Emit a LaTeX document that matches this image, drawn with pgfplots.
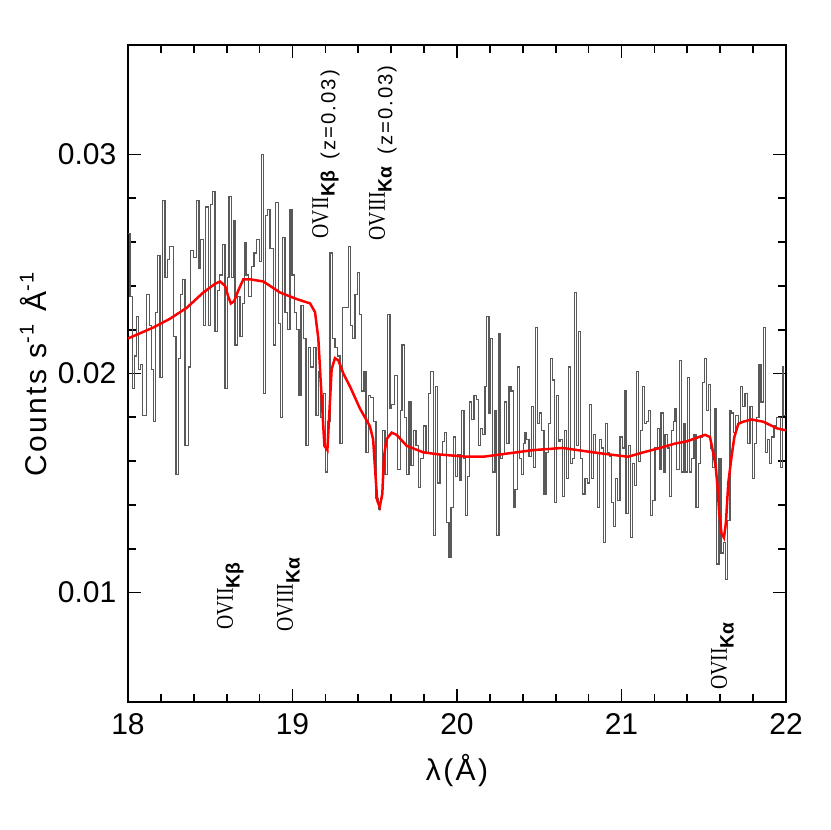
\documentclass[border=0pt]{standalone}
\usepackage{fontspec}
\setmainfont{Liberation Sans}
\newfontfamily\lserif{Liberation Serif}
\newfontfamily\widesans[LetterSpace=10]{Liberation Sans}
\newfontfamily\labsans[LetterSpace=8]{Liberation Sans}
\usepackage{graphicx}
\usepackage{pgfplots}
\pgfplotsset{compat=1.18}

% line label: ion name (serif, condensed) + bold sans subscript
\newcommand{\ion}[2]{{\fontsize{7.2}{8}\lserif\scalebox{0.82}[1]{#1}}\raisebox{-2pt}{\fontsize{5.8}{6}\selectfont\bfseries #2}}
\newcommand{\zz}{\raisebox{-2.2pt}{\fontsize{6.1}{7}\widesans (z=0.03)}}

\begin{document}
\begin{tikzpicture}
\begin{axis}[
    scale only axis,
    width=197.4pt, height=197.1pt,
    xmin=18, xmax=22, ymin=0.005, ymax=0.035,
    xtick={18,19,20,21,22},
    ytick={0.01,0.02,0.03},
    minor x tick num=4, minor y tick num=4,
    tick align=inside,
    major tick length=3.9pt, minor tick length=2.4pt,
    axis line style={line width=0.6pt},
    every tick/.style={line width=0.5pt, black},
    scaled y ticks=false,
    yticklabel style={/pgf/number format/fixed, /pgf/number format/precision=2, /pgf/number format/fixed zerofill},
    /pgf/number format/assume math mode=true,
    tick label style={font=\fontsize{9}{11}\selectfont},
    label style={font=\fontsize{9}{11}\labsans},
    xlabel={λ(Å)},
    ylabel={Counts s\textsuperscript{-1} Å\textsuperscript{-1}},
    xlabel style={yshift=1pt},
    ylabel shift=-3.5pt,
    clip=false,
]
% observed spectrum (binned counts)
\addplot[const plot, black!65, line width=0.35pt] coordinates {
(18.000,0.0264) (18.012,0.0235) (18.028,0.0193) (18.039,0.0208) (18.053,0.0226)
(18.063,0.0202) (18.077,0.0204) (18.089,0.0181) (18.114,0.0236) (18.130,0.0222)
(18.144,0.0202) (18.154,0.0178) (18.168,0.0228) (18.178,0.0254) (18.195,0.0198)
(18.211,0.0279) (18.225,0.0244) (18.239,0.0252) (18.251,0.0258) (18.276,0.0217)
(18.292,0.0154) (18.306,0.0207) (18.320,0.0236) (18.332,0.0243) (18.347,0.0167)
(18.367,0.0203) (18.381,0.0256) (18.397,0.0253) (18.418,0.0279) (18.432,0.0248)
(18.442,0.0261) (18.458,0.0222) (18.472,0.0276) (18.488,0.0222) (18.499,0.0277)
(18.515,0.0283) (18.529,0.0219) (18.543,0.0238) (18.555,0.0245) (18.576,0.0259)
(18.590,0.0193) (18.604,0.0244) (18.614,0.0281) (18.630,0.0244) (18.640,0.0270)
(18.650,0.0213) (18.665,0.0235) (18.681,0.0217) (18.695,0.0232) (18.707,0.0260)
(18.717,0.0245) (18.732,0.0235) (18.752,0.0249) (18.766,0.0255) (18.782,0.0261)
(18.798,0.0251) (18.813,0.0300) (18.823,0.0191) (18.837,0.0272) (18.849,0.0275)
(18.863,0.0257) (18.884,0.0213) (18.898,0.0278) (18.914,0.0223) (18.928,0.0180)
(18.940,0.0262) (18.954,0.0228) (18.969,0.0220) (18.985,0.0275) (18.997,0.0245)
(19.011,0.0228) (19.025,0.0220) (19.040,0.0190) (19.052,0.0231) (19.066,0.0216)
(19.082,0.0167) (19.096,0.0212) (19.110,0.0203) (19.127,0.0212) (19.143,0.0181)
(19.157,0.0201) (19.171,0.0180) (19.187,0.0191) (19.202,0.0155) (19.214,0.0178)
(19.228,0.0255) (19.242,0.0216) (19.258,0.0212) (19.275,0.0208) (19.289,0.0168)
(19.303,0.0230) (19.339,0.0258) (19.354,0.0222) (19.366,0.0216) (19.380,0.0236)
(19.394,0.0246) (19.406,0.0227) (19.421,0.0192) (19.435,0.0201) (19.447,0.0164)
(19.461,0.0190) (19.475,0.0189) (19.491,0.0178) (19.508,0.0143) (19.522,0.0138)
(19.536,0.0143) (19.548,0.0174) (19.562,0.0154) (19.577,0.0227) (19.593,0.0184)
(19.603,0.0186) (19.619,0.0199) (19.637,0.0156) (19.654,0.0183) (19.666,0.0213)
(19.680,0.0180) (19.694,0.0154) (19.708,0.0187) (19.720,0.0158) (19.735,0.0174)
(19.751,0.0167) (19.765,0.0148) (19.779,0.0161) (19.795,0.0176) (19.812,0.0164)
(19.826,0.0191) (19.840,0.0201) (19.856,0.0126) (19.870,0.0194) (19.883,0.0150)
(19.897,0.0163) (19.911,0.0169) (19.923,0.0173) (19.937,0.0132) (19.951,0.0116)
(19.964,0.0139) (19.978,0.0171) (19.992,0.0153) (20.004,0.0163) (20.018,0.0151)
(20.028,0.0183) (20.043,0.0161) (20.053,0.0135) (20.063,0.0153) (20.075,0.0187)
(20.089,0.0179) (20.103,0.0190) (20.116,0.0188) (20.130,0.0167) (20.144,0.0175)
(20.156,0.0172) (20.170,0.0194) (20.180,0.0226) (20.195,0.0182) (20.205,0.0216)
(20.217,0.0155) (20.231,0.0183) (20.241,0.0126) (20.255,0.0218) (20.266,0.0161)
(20.278,0.0163) (20.288,0.0187) (20.302,0.0168) (20.316,0.0194) (20.328,0.0192)
(20.343,0.0139) (20.353,0.0147) (20.367,0.0203) (20.379,0.0161) (20.391,0.0154)
(20.403,0.0168) (20.413,0.0173) (20.424,0.0170) (20.438,0.0162) (20.452,0.0185)
(20.464,0.0157) (20.476,0.0221) (20.488,0.0177) (20.501,0.0182) (20.515,0.0174)
(20.529,0.0145) (20.541,0.0164) (20.555,0.0177) (20.569,0.0207) (20.582,0.0197)
(20.594,0.0141) (20.606,0.0190) (20.616,0.0169) (20.626,0.0170) (20.640,0.0144)
(20.655,0.0174) (20.667,0.0152) (20.679,0.0203) (20.691,0.0159) (20.703,0.0161)
(20.715,0.0237) (20.728,0.0167) (20.740,0.0219) (20.752,0.0161) (20.764,0.0145)
(20.778,0.0152) (20.792,0.0150) (20.805,0.0186) (20.819,0.0152) (20.829,0.0172)
(20.843,0.0164) (20.855,0.0139) (20.865,0.0170) (20.879,0.0166) (20.890,0.0123)
(20.904,0.0177) (20.916,0.0164) (20.928,0.0162) (20.940,0.0141) (20.950,0.0130)
(20.965,0.0152) (20.977,0.0142) (20.991,0.0171) (21.005,0.0166) (21.017,0.0192)
(21.027,0.0136) (21.042,0.0167) (21.056,0.0125) (21.068,0.0159) (21.078,0.0149)
(21.092,0.0201) (21.102,0.0160) (21.113,0.0174) (21.127,0.0194) (21.139,0.0177)
(21.153,0.0178) (21.165,0.0183) (21.177,0.0135) (21.190,0.0142) (21.204,0.0166)
(21.218,0.0175) (21.230,0.0156) (21.240,0.0182) (21.254,0.0155) (21.264,0.0172)
(21.279,0.0166) (21.291,0.0144) (21.303,0.0174) (21.315,0.0178) (21.325,0.0184)
(21.335,0.0156) (21.352,0.0206) (21.366,0.0155) (21.376,0.0177) (21.386,0.0155)
(21.400,0.0198) (21.412,0.0155) (21.427,0.0161) (21.441,0.0172) (21.453,0.0139)
(21.467,0.0159) (21.481,0.0171) (21.491,0.0196) (21.504,0.0207) (21.518,0.0183)
(21.528,0.0195) (21.542,0.0166) (21.554,0.0157) (21.568,0.0184) (21.579,0.0113)
(21.593,0.0161) (21.605,0.0118) (21.619,0.0123) (21.633,0.0106) (21.645,0.0133)
(21.660,0.0183) (21.670,0.0182) (21.680,0.0173) (21.694,0.0181) (21.710,0.0177)
(21.724,0.0194) (21.737,0.0185) (21.751,0.0191) (21.765,0.0168) (21.781,0.0185)
(21.795,0.0152) (21.808,0.0168) (21.822,0.0180) (21.836,0.0204) (21.848,0.0187)
(21.862,0.0221) (21.876,0.0164) (21.887,0.0170) (21.899,0.0159) (21.913,0.0171)
(21.927,0.0176) (21.943,0.0180) (21.964,0.0157) (21.978,0.0203) (21.986,0.0181)
(22.000,0.0181)
};
% model
\addplot[red, line width=0.75pt] coordinates {
(18.000,0.0216) (18.154,0.0221) (18.255,0.0225) (18.357,0.0230) (18.458,0.0237)
(18.530,0.0241) (18.560,0.0242) (18.590,0.0240) (18.610,0.0235) (18.625,0.0232)
(18.645,0.0233) (18.671,0.0238) (18.701,0.0243) (18.742,0.0243) (18.823,0.0242)
(18.924,0.0237) (19.025,0.0234) (19.107,0.0232) (19.137,0.0228) (19.157,0.0216)
(19.171,0.0197) (19.184,0.0180) (19.194,0.0167) (19.212,0.0165) (19.224,0.0182)
(19.238,0.0202) (19.258,0.0207) (19.279,0.0206) (19.309,0.0200) (19.350,0.0194)
(19.410,0.0184) (19.470,0.0176) (19.490,0.0170) (19.505,0.0153) (19.515,0.0142)
(19.530,0.0139) (19.546,0.0145) (19.556,0.0162) (19.572,0.0170) (19.603,0.0173)
(19.633,0.0172) (19.694,0.0167) (19.795,0.0164) (19.897,0.0163) (20.058,0.0162)
(20.160,0.0162) (20.260,0.0163) (20.360,0.0164) (20.460,0.0165) (20.640,0.0166)
(20.829,0.0164) (20.930,0.0163) (21.040,0.0162) (21.133,0.0164) (21.234,0.0166)
(21.325,0.0168) (21.396,0.0169) (21.508,0.0172) (21.538,0.0171) (21.554,0.0165)
(21.572,0.0158) (21.584,0.0148) (21.594,0.0136) (21.608,0.0127) (21.623,0.0125)
(21.635,0.0132) (21.649,0.0150) (21.669,0.0162) (21.686,0.0171) (21.710,0.0177)
(21.740,0.0178) (21.790,0.0179) (21.862,0.0178) (21.943,0.0175) (22.000,0.0174)
};
% line identifications
\node[rotate=90, anchor=base west, inner sep=0pt] at (axis cs:18.638,0.00827) {\ion{OVII}{Kβ}};
\node[rotate=90, anchor=base west, inner sep=0pt] at (axis cs:19.003,0.00818) {\ion{OVIII}{Kα}};
\node[rotate=90, anchor=base west, inner sep=0pt] at (axis cs:19.216,0.02614) {\ion{OVII}{Kβ}\hspace{3.5pt}\zz};
\node[rotate=90, anchor=base west, inner sep=0pt] at (axis cs:19.562,0.02605) {\ion{OVIII}{Kα}\hspace{3.5pt}\zz};
\node[rotate=90, anchor=base west, inner sep=0pt] at (axis cs:21.641,0.00553) {\ion{OVII}{Kα}};
\end{axis}
\path ([shift={(-38.4pt,-38.4pt)}]current axis.south west) rectangle ([shift={(13.2pt,13.5pt)}]current axis.north east);
\end{tikzpicture}
\end{document}
